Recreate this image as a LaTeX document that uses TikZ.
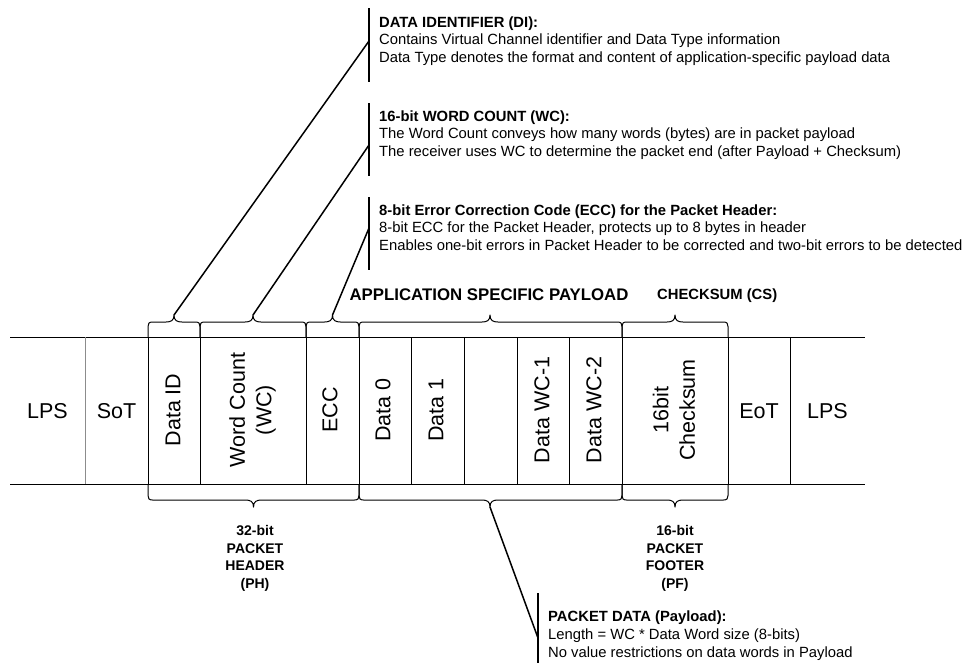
\documentclass[tikz,border=0pt]{standalone}
\usepackage{fontspec}
\setmainfont{Liberation Sans}
\usetikzlibrary{calc}

% brace opening upwards over a field: left x, right x, tip x, tip name
\newcommand\upbrace[4]{%
  \draw[bracepath] (#1,337) -- (#1,326.5)
    .. controls (#1,323.5) and (#1+1,322) .. (#1+4.5,322) -- (#3-8,322)
    .. controls (#3-3,322) and (#3,320.5) .. (#3,315)
    .. controls (#3,320.5) and (#3+3,322) .. (#3+8,322) -- (#2-4.5,322)
    .. controls (#2-1,322) and (#2,323.5) .. (#2,326.5) -- (#2,337);
  \coordinate (#4) at (#3,315);}
% brace opening downwards under a field
\newcommand\downbrace[4]{%
  \draw[bracepath] (#1,484) -- (#1,495.5)
    .. controls (#1,498.5) and (#1+1,500) .. (#1+4.5,500) -- (#3-8,500)
    .. controls (#3-3,500) and (#3,501.5) .. (#3,507)
    .. controls (#3,501.5) and (#3+3,500) .. (#3+8,500) -- (#2-4.5,500)
    .. controls (#2-1,500) and (#2,498.5) .. (#2,495.5) -- (#2,484);
  \coordinate (#4) at (#3,507);}

\begin{document}
\begin{tikzpicture}[x=1pt,y=-1pt,
  frame/.style={line width=1pt},
  thinsep/.style={line width=0.6pt, draw=black!45},
  bracepath/.style={line width=1pt, line join=round},
  bar/.style={line width=2pt},
  leader/.style={line width=1.5pt},
  cell/.style={font=\fontsize{21.5}{26.5}\selectfont, align=center, inner sep=0pt},
  vcell/.style={cell, rotate=90},
  % multi-line nodes: the base anchor sits on the last line's baseline
  note/.style={font=\fontsize{14.8}{17.7}\selectfont, align=left, anchor=base west, inner sep=0pt},
  caption/.style={font=\bfseries\fontsize{14}{17.7}\selectfont, align=center, anchor=base, inner sep=0pt},
]
\useasboundingbox (0,0) rectangle (966,662);

% packet frame
\draw[frame] (10,337) -- (865,337);
\draw[frame] (10,484) -- (865,484);
\draw[thinsep] (85,337) -- (85,484);
\foreach \x in {148,200,306,359,411,464,517,569,622,728,790}
  \draw[frame] (\x,337) -- (\x,484);

% field labels
\node[cell]  (lpsA) at (47.5,411) {LPS};
\node[cell]  (sot)  at (116.5,411) {SoT};
\node[vcell] (did)  at (173,410) {Data ID};
\node[vcell] (wc)   at (252.5,410) {Word Count\\(WC)};
\node[vcell] (ecc)  at (330,410) {ECC};
\node[vcell] (d0)   at (383,410) {Data 0};
\node[vcell] (d1)   at (436,410) {Data 1};
\node[vcell] (dw1)  at (542,410) {Data WC-1};
\node[vcell] (dw2)  at (594,410) {Data WC-2};
\node[vcell] (cks)  at (674,410) {16bit\\Checksum};
\node[cell]  (eot)  at (759,411) {EoT};
\node[cell]  (lpsB) at (827.5,411) {LPS};

% braces above the fields
\upbrace{148}{200}{174}{tipDI}
\upbrace{200}{306}{253}{tipWC}
\upbrace{306}{359}{332.5}{tipECC}
\upbrace{359}{622}{490}{tipPL}
\upbrace{622}{728}{675}{tipCS}

% braces below the fields
\downbrace{148}{359}{253.5}{tipPH}
\downbrace{359}{622}{490}{tipPD}
\downbrace{622}{728}{675}{tipPF}

\node[font=\bfseries\fontsize{16.8}{20}\selectfont, inner sep=0pt] (plhead) at (489,295) {APPLICATION SPECIFIC PAYLOAD};
\node[font=\bfseries\fontsize{14.8}{18}\selectfont, inner sep=0pt, anchor=west] (cshead) at (657,296) {CHECKSUM (CS)};

\node[caption] (ph) at (255,588.5) {32-bit\\PACKET\\HEADER\\(PH)};
\node[caption] (pf) at (675,588.5) {16-bit\\PACKET\\FOOTER\\(PF)};

% annotation bars with their leaders
\coordinate (barDIt) at (369,8);   \coordinate (barDIb) at (369,82);
\coordinate (barWCt) at (369,103); \coordinate (barWCb) at (369,176);
\coordinate (barEt)  at (369,197); \coordinate (barEb)  at (369,270);
\coordinate (barPt)  at (538,593); \coordinate (barPb)  at (538,666);
\draw[bar] (barDIt) -- (barDIb);
\draw[bar] (barWCt) -- (barWCb);
\draw[bar] (barEt) -- (barEb);
\draw[bar] (barPt) -- (barPb);
\coordinate (endDI) at (369,41);
\coordinate (endWC) at (369,145);
\coordinate (endE)  at (369,228);
\coordinate (endP)  at (538,638);
\draw[leader] (tipDI) -- (endDI);
\draw[leader] (tipWC) -- (endWC);
\draw[leader] (tipECC) -- (endE);
\draw[leader] (tipPD) -- (endP);

\node[note] (nDI) at (379,62.5) {\textbf{DATA IDENTIFIER (DI):}\\Contains Virtual Channel identifier and Data Type information\\Data Type denotes the format and content of application-specific payload data};
\node[note] (nWC) at (379,156.5) {\textbf{16-bit WORD COUNT (WC):}\\The Word Count conveys how many words (bytes) are in packet payload\\The receiver uses WC to determine the packet end (after Payload + Checksum)};
\node[note] (nE) at (379,250.5) {\textbf{8-bit Error Correction Code (ECC) for the Packet Header:}\\8-bit ECC for the Packet Header, protects up to 8 bytes in header\\Enables one-bit errors in Packet Header to be corrected and two-bit errors to be detected};
\node[note] (nP) at (548,657) {\textbf{PACKET DATA (Payload):}\\Length = WC * Data Word size (8-bits)\\No value restrictions on data words in Payload};
\end{tikzpicture}
\end{document}
